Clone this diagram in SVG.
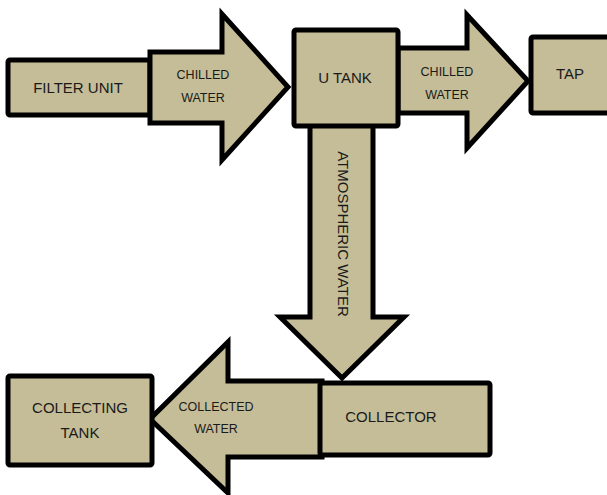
<svg xmlns="http://www.w3.org/2000/svg" width="607" height="495" viewBox="0 0 607 495">
<style>
.s{fill:#C4BD97;stroke:#000;stroke-width:5;stroke-linejoin:miter;stroke-miterlimit:10}
.b{fill:#C4BD97;stroke:#000;stroke-width:5;stroke-linejoin:round}
text{font-family:"Liberation Sans",Arial,sans-serif;fill:#1a1a1a;text-anchor:middle}
.l{font-size:15px}
.m{font-size:12.5px}
</style>
<rect width="607" height="495" fill="#fff"/>
<g id="filter-unit"><rect class="b" x="8" y="60" width="142" height="55" rx="2"/><text class="l" x="78" y="93">FILTER UNIT</text></g>
<g id="connectors">
<g id="arrow-chilled-1"><polygon class="s" points="150,52 222,52 222,14 288,87 222,160 222,123 150,123"/><text class="m"><tspan x="203" y="79">CHILLED</tspan><tspan x="203" y="102">WATER</tspan></text></g>
<g id="arrow-chilled-2"><polygon class="s" points="398,48 467,48 467,15 528,81 467,148 467,113 398,113"/><text class="m"><tspan x="447" y="76">CHILLED</tspan><tspan x="447" y="99">WATER</tspan></text></g>
<g id="arrow-atmospheric"><polygon class="s" points="310,125 373,125 373,317 404,317 342,378 280,317 310,317"/><text class="l" transform="translate(343,234) rotate(90)" dominant-baseline="central">ATMOSPHERIC WATER</text></g>
<g id="arrow-collected"><polygon class="s" points="322,381 228,381 228,342 150,419 228,493 228,457 322,457"/><text class="m"><tspan x="216" y="411">COLLECTED</tspan><tspan x="216" y="433">WATER</tspan></text></g>
</g>
<g id="u-tank"><rect class="b" x="294" y="30" width="104" height="96" rx="2"/><text class="l" x="345" y="83">U TANK</text></g>
<g id="tap"><rect class="b" x="531" y="37" width="80" height="76" rx="2"/><text class="l" x="570" y="79">TAP</text></g>
<g id="collector"><rect class="b" x="320" y="383" width="170" height="72" rx="2"/><text class="l" x="391" y="422">COLLECTOR</text></g>
<g id="collecting-tank"><rect class="b" x="8" y="376" width="144" height="89" rx="2"/><text class="l"><tspan x="80" y="413">COLLECTING</tspan><tspan x="80" y="438">TANK</tspan></text></g>
</svg>
